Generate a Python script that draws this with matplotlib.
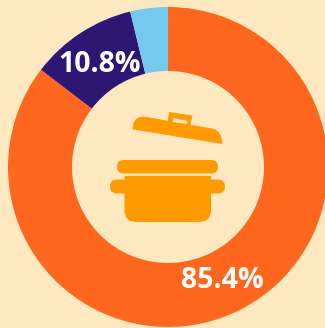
import matplotlib
matplotlib.use('Agg')
import matplotlib.pyplot as plt
from matplotlib.patches import FancyBboxPatch, PathPatch, Polygon
from matplotlib.path import Path

W, H = 325, 328

# Share values, clockwise from 12 o'clock
shares = [85.4, 10.8, 3.8]
colors = ['#FF671F', '#2E1674', '#73C9EE']
labels = ['85.4%', '10.8%']

BG = '#FEE8C0'
POT = '#FF9B00'

fig = plt.figure(figsize=(W / 100, H / 100), dpi=100, facecolor=BG)
ax = fig.add_axes([0, 0, 1, 1])
ax.set_xlim(0, W)
ax.set_ylim(0, H)
ax.axis('off')

ax.pie(shares, colors=colors, startangle=90, counterclock=False,
       radius=160, center=(168, H - 167), frame=True,
       wedgeprops={'width': 64, 'linewidth': 0})
ax.set_xlim(0, W)
ax.set_ylim(0, H)
ax.set_aspect('auto')
ax.axis('off')

ax.text(222, H - 280, labels[0], color='white', fontsize=20.5, fontweight='bold',
        family='Open Sans', ha='center', va='center')
ax.text(100, H - 64.5, labels[1], color='white', fontsize=20.5, fontweight='bold',
        family='Open Sans', ha='center', va='center')


def pt(x, y):
    return (x, H - y)


def rounded(x0, y0, x1, y1, r):
    # pill shape, top-left corner is x0,y0 in image coordinates
    box = FancyBboxPatch((x0 + r, H - y1 + r), x1 - x0 - 2 * r, y1 - y0 - 2 * r,
                         boxstyle=f'round,pad={r},rounding_size={r}',
                         facecolor=POT, edgecolor='none')
    ax.add_patch(box)


# pot rim and side handles
rounded(117, 160, 218, 173.5, 6.7)
rounded(110, 179.5, 225, 193.5, 7)

# pot body
C3 = Path.CURVE3
body = Path([pt(124.5, 176), pt(211, 176), pt(211, 210), pt(211, 222), pt(199, 222),
             pt(137, 222), pt(124.5, 222), pt(124.5, 210), pt(124.5, 176)],
            [Path.MOVETO, Path.LINETO, Path.LINETO, C3, C3, Path.LINETO, C3, C3, Path.CLOSEPOLY])
ax.add_patch(PathPatch(body, facecolor=POT, edgecolor='none'))

# lid
lid = Path([pt(133, 129), pt(133, 117), pt(144, 117), pt(212, 129), pt(221.5, 130.5),
            pt(222, 143.5), pt(133, 129)],
           [Path.MOVETO, C3, C3, Path.LINETO, C3, C3, Path.CLOSEPOLY])
ax.add_patch(PathPatch(lid, facecolor=POT, edgecolor=POT, linewidth=0.6, joinstyle='round'))

# lid knob
ax.add_patch(Polygon([pt(169.5, 112.5), pt(192, 116), pt(189.5, 126), pt(168, 122)],
                     facecolor=POT, edgecolor=POT, linewidth=0.6, joinstyle='round'))
ax.add_patch(Polygon([pt(173.5, 118), pt(187.5, 121), pt(186.5, 124), pt(172.5, 122)],
                     facecolor=BG, edgecolor='none'))

fig.savefig('out.png', dpi=100, facecolor=BG)
